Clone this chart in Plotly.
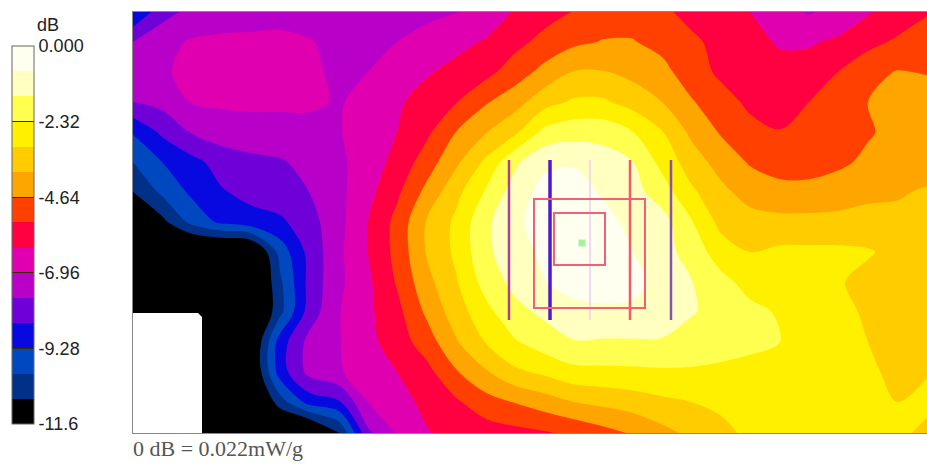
import numpy as np
import plotly.graph_objects as go

# Horizontal / vertical grid positions (pixels of the scan area)
x_pos = [0,29,59,88,117,147,176,206,235,264,294,323,353,382,411,441,470,500,529,558,588,617,647,676,705,735,764,794]
y_pos = [0,30,60,90,120,150,180,210,240,270,300,330,360,390,421]

# Field values, in colour-band units (1 unit = 0.7733 dB below peak)
row_00 = [12,10.4,9.7,9.5,9.4,9.3,9.3,9.4,9.4,9.3,9.2,9.05,8.6,7.9,7.4,6.95,6.5,6.4,6.8,7.3,7.6,8,8.6,9.1,8.6,8.1,7.6,7.1]
row_01 = [10,9.3,8.9,8.8,8.8,8.8,8.95,9.2,9.2,9.0,8.7,8.3,7.9,7.3,6.7,6.2,5.95,5.95,6.3,6.8,7.3,7.7,8.1,8.1,7.85,7.3,6.85,6.4]
row_02 = [9.6,9.1,8.8,8.7,8.7,8.7,8.9,9.1,9,8.5,8.1,7.7,7.3,6.5,5.7,4.95,4.95,5.3,5.7,6.5,7.2,7.5,7.7,7.6,7,6.3,5.95,6.05]
row_03 = [10,9.7,8.95,8.85,8.85,8.85,8.9,9.05,8.8,8.15,7.6,7.05,6.1,5.4,4.4,3.85,3.85,4.4,5,5.9,6.6,7.2,7.5,7,6.6,6,5.6,5.6]
row_04 = [11.9,10.8,9.9,9.5,9.3,9.3,9.2,9.05,8.6,8,7.2,6,5.05,4.2,2.75,2.4,2.4,3,3.95,5.2,6.1,6.7,6.95,6.7,6.4,6.1,5.7,5.5]
row_05 = [13,12,11.3,10.6,10.3,10.1,9.7,9.2,8.5,7.7,6.5,5.2,3.8,2.2,1.2,1.1,1.5,2,3.3,4.5,5.4,6.1,6.4,6.4,6.2,5.8,5.5,5.4]
row_06 = [14,12.8,11.8,11.1,10.7,10.35,10,9.25,8.3,7.2,5.7,4.3,2.9,1.5,.7,.6,1.1,1.65,2.5,3.8,4.75,5.4,5.7,5.7,5.5,5.2,5.1,4.9]
row_07 = [15.5,14.3,12.7,11.8,11.4,11.2,10.4,9.3,8,6.7,4.9,3.8,2.2,1.2,.6,.4,.7,1.25,1.6,2.9,4.3,4.6,4.7,4.7,4.7,4.7,4.75,4.75]
row_08 = [16,16,16,16,15.8,12.6,10.7,9.2,8,6.7,4.9,3.8,2.2,1.4,.8,.3,.5,1,1.6,2.4,3.5,4,3.8,3.8,3.8,3.9,4.3,4.4]
row_09 = [16,16,16,16,16,13.2,10.7,9.2,8.2,6.9,5.3,4.1,2.6,1.7,1.05,.5,.5,.7,1.4,1.95,2.7,3.35,3.5,3.6,3.9,4.3,4.5,4.5]
row_10 = [16,16,16,16,16,13.3,10.55,9.05,8.2,7.3,5.8,4.5,3.3,2.3,1.8,1.4,1.2,1.2,1.4,1.9,2.4,2.75,3.1,3.5,3.8,4.1,4.4,4.4]
row_11 = [16,16,16,16,15.5,11.5,9.7,9.05,8.3,7.5,6.5,5.1,3.95,3.1,2.5,2.05,2.1,2.1,2.1,2.5,2.7,2.85,3,3.3,3.6,4,4.3,4.4]
row_12 = [16,16,16,16,15.5,11.5,9.7,9.1,8.5,8,7.3,6.1,5.1,4.2,3.8,3.3,3.25,3.2,3.15,3.1,3.15,3.2,3.3,3.4,3.6,3.85,4.2,4.05]
row_13 = [16,16,16,16,16,13.5,11.6,11.1,9,8.3,7.8,7.15,6.4,5.95,5.5,5,4.75,4.5,4.2,4,3.8,3.6,3.45,3.4,3.45,3.7,4,3.8]
row_14 = [16,16,16,16,16,16,16,14.1,10.2,8.9,8.05,7.75,7.5,7.3,7.1,6.8,6.35,5.9,5.3,4.8,4.25,3.8,3.5,3.4,3.3,3.5,3.8,4.2]
rows = [row_00,row_01,row_02,row_03,row_04,row_05,row_06,row_07,row_08,row_09,row_10,row_11,row_12,row_13,row_14]

band_colors = ["#000000","#003088","#0048C0","#0808E0","#7000D8","#B800C8","#E000B0","#FF0040",
               "#FF4000","#FFA500","#FFCC00","#FFF000","#FFFF50","#FFFFC0","#FFFFF0"]
tick_vals = [0,-2.32,-4.64,-6.96,-9.28,-11.6]
tick_text = ["0.000","-2.32","-4.64","-6.96","-9.28","-11.6"]

probe_x = [376,417,457,497,538]
probe_colors = ["#A8409A","#5018D0","#F2D8F0","#F05A6A","#8A50B8"]
probe_widths = [2.5,3.5,2,2.5,2.5]
box_outer = [401,512,187,296]
box_inner = [421,472,201,253]
peak_pos = [449,231]

z = np.array(rows) * -0.77333
n = len(band_colors)
colorscale = []
for i, c in enumerate(band_colors):
    colorscale += [[i/n, c], [(i+1)/n, c]]

fig = go.Figure(go.Contour(
    x=x_pos, y=y_pos, z=z, zmin=-11.6, zmax=0, autocontour=False,
    contours=dict(start=-11.6+11.6/n, end=-11.6/n, size=11.6/n, coloring="fill", showlines=False),
    line=dict(width=0, smoothing=1), colorscale=colorscale, hoverinfo="skip",
    colorbar=dict(x=-0.1524, xanchor="left", xpad=0, ypad=0, y=0.919, yanchor="top",
                  thickness=22, thicknessmode="pixels", len=378, lenmode="pixels",
                  tickvals=tick_vals, ticktext=tick_text, ticks="inside", ticklen=22,
                  tickcolor="#3a2a00", tickwidth=1, outlinecolor="#666", outlinewidth=1,
                  tickfont=dict(family="Liberation Sans", size=18, color="#222"))))

shapes = []
for xp, c, w in zip(probe_x, probe_colors, probe_widths):
    shapes.append(dict(type="line", x0=xp, x1=xp, y0=148, y1=308, line=dict(color=c, width=w)))
for b, w in ((box_outer, 2), (box_inner, 2)):
    shapes.append(dict(type="rect", x0=b[0], x1=b[1], y0=b[2], y1=b[3], line=dict(color="#F06078", width=w)))
shapes.append(dict(type="path", path="M 0 421 L 0 301 L 65 301 L 69 305 L 69 421 Z",
                   fillcolor="white", line=dict(width=0)))
fig.add_trace(go.Scatter(x=[peak_pos[0]], y=[peak_pos[1]], mode="markers", showlegend=False,
                         marker=dict(symbol="square", size=7, color="#A8F0A0"), hoverinfo="skip"))

fig.update_layout(
    width=927, height=464, margin=dict(l=133, r=0, t=12, b=31), paper_bgcolor="white", plot_bgcolor="white",
    showlegend=False, shapes=shapes,
    xaxis=dict(range=[0,794], showticklabels=False, ticks="", showgrid=False, zeroline=False,
               showline=True, linecolor="#888", linewidth=1, mirror=True),
    yaxis=dict(range=[421,0], showticklabels=False, ticks="", showgrid=False, zeroline=False,
               showline=True, linecolor="#888", linewidth=1, mirror=True),
    annotations=[
        dict(text="dB", xref="paper", yref="paper", x=(48-133)/794, y=(433-25)/421, xanchor="center", yanchor="middle",
             showarrow=False, font=dict(family="Liberation Sans", size=18, color="#222")),
        dict(text="0 dB = 0.022mW/g", xref="paper", yref="paper", x=0, y=(433-463)/421, xanchor="left", yanchor="bottom",
             xshift=-2, showarrow=False, font=dict(family="Liberation Serif", size=22, color="#555")),
    ])
fig.write_html("out.html", config=dict(displayModeBar=False),
               post_script="document.body.style.margin='0';document.documentElement.style.overflow='hidden';")
